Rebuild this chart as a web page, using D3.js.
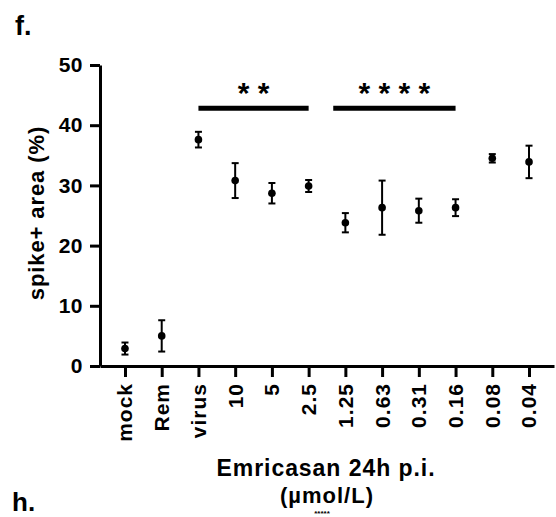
<!DOCTYPE html>
<html><head><meta charset="utf-8">
<script src="https://cdn.jsdelivr.net/npm/d3@7"></script>
<style>
html,body{margin:0;padding:0;background:#fff;}
svg text{font-family:"Liberation Sans",Arial,sans-serif;font-weight:bold;fill:#000;}
</style></head>
<body>
<svg id="c" width="556" height="517"></svg>
<script>
const categories = ["mock","Rem","virus","10","5","2.5","1.25","0.63","0.31","0.16","0.08","0.04"];
const means = [2.9, 5.0, 37.6, 30.8, 28.7, 29.9, 23.8, 26.3, 25.8, 26.3, 34.5, 33.9];
const errors = [1.0, 2.6, 1.3, 2.9, 1.7, 1.0, 1.6, 4.5, 2.0, 1.4, 0.7, 2.7];
const yTicks = [0, 10, 20, 30, 40, 50];
const sigGroups = [
  {from: "virus", to: "2.5", label: "* *", offset: 0},
  {from: "1.25", to: "0.16", label: "* * * *", offset: -0.33}
];
const sigLevel = 42.8, starLevel = 46.3;

const svg = d3.select("#c");
const x = d3.scalePoint().domain(categories).range([100, 554]).padding(0.68);
const y = d3.scaleLinear().domain([0, 50]).range([366, 65]);

// y axis
const ya = svg.append("g").attr("transform","translate(100,0)")
  .call(d3.axisLeft(y).tickValues(yTicks).tickSize(10).tickSizeOuter(0).tickPadding(7));
ya.select(".domain").attr("stroke","#000").attr("stroke-width",3);
ya.selectAll(".tick line").attr("stroke","#000").attr("stroke-width",3);
ya.selectAll(".tick text").attr("font-size",21).attr("font-family","Liberation Sans, Arial, sans-serif")
  .attr("font-weight","bold").attr("fill","#000").style("letter-spacing","0.5px");

// x axis
const xa = svg.append("g").attr("transform","translate(0,366)")
  .call(d3.axisBottom(x).tickSize(11).tickSizeOuter(0));
xa.select(".domain").attr("stroke","#000").attr("stroke-width",3);
xa.selectAll(".tick line").attr("stroke","#000").attr("stroke-width",3);
xa.selectAll(".tick text").attr("font-size",21).attr("font-family","Liberation Sans, Arial, sans-serif")
  .attr("font-weight","bold").attr("fill","#000").style("letter-spacing","1px")
  .attr("transform","rotate(-90)").attr("text-anchor","end")
  .attr("x",-17).attr("y",0).attr("dy","0.33em");

// error bars
const g = svg.append("g");
categories.forEach((c,i)=>{
  const cx = x(c), m = means[i], e = errors[i];
  g.append("line").attr("x1",cx).attr("x2",cx).attr("y1",y(m+e)).attr("y2",y(m-e))
    .attr("stroke","#000").attr("stroke-width",2);
  [m+e, m-e].forEach(v=>{
    g.append("line").attr("x1",cx-3.5).attr("x2",cx+3.5).attr("y1",y(v)).attr("y2",y(v))
      .attr("stroke","#000").attr("stroke-width",2);
  });
  g.append("circle").attr("cx",cx).attr("cy",y(m)).attr("r",3.8).attr("fill","#000");
});

// significance
const step = x.step();
sigGroups.forEach(s=>{
  const x1 = x(s.from) + s.offset*step, x2 = x(s.to);
  svg.append("line").attr("x1",x1).attr("x2",x2).attr("y1",y(sigLevel)).attr("y2",y(sigLevel))
    .attr("stroke","#000").attr("stroke-width",5);
  svg.append("text").attr("x",(x1+x2)/2).attr("y",y(starLevel)+16)
    .attr("text-anchor","middle").attr("font-size",30).text(s.label);
});

// axis titles
svg.append("text").attr("transform","translate(44,213) rotate(-90)").attr("text-anchor","middle")
  .attr("font-size",22).style("letter-spacing","0.9px").text("spike+ area (%)");
svg.append("text").attr("x",326).attr("y",476).attr("text-anchor","middle")
  .attr("font-size",23).style("letter-spacing","0.95px").text("Emricasan 24h p.i.");
svg.append("text").attr("x",327).attr("y",503).attr("text-anchor","middle")
  .attr("font-size",22).style("letter-spacing","1px").text("(µmol/L)");

// panel labels
svg.append("text").attr("x",15).attr("y",35).attr("font-size",27).text("f.");
svg.append("text").attr("x",12).attr("y",511).attr("font-size",26).text("h.");
svg.append("text").attr("x",322).attr("y",515.5).attr("text-anchor","middle")
  .attr("font-size",8).text("*****");
</script>
</body></html>
